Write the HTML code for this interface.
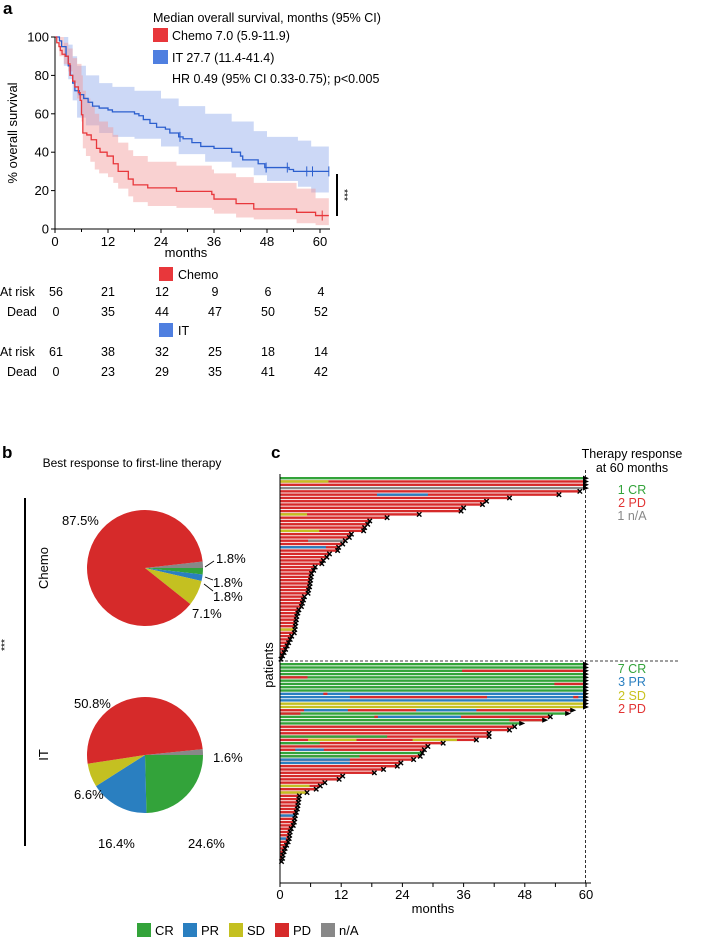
<!DOCTYPE html>
<html><head><meta charset="utf-8">
<style>
html,body{margin:0;padding:0;background:#fff;}
svg{display:block;font-family:"Liberation Sans",Arial,sans-serif;}
</style></head>
<body>
<svg id="fig" width="709" height="941" viewBox="0 0 709 941" xmlns="http://www.w3.org/2000/svg">
<text x="3" y="14" font-size="17" font-weight="bold">a</text>
<text x="2" y="458" font-size="17" font-weight="bold">b</text>
<text x="271" y="458" font-size="17" font-weight="bold">c</text>

<g id="km"></g>
<g font-size="12.5">
  <text x="153" y="22">Median overall survival, months (95% CI)</text>
  <rect x="153" y="28" width="15" height="14" fill="#e8373b"/>
  <text x="172" y="40">Chemo 7.0 (5.9-11.9)</text>
  <rect x="153" y="50" width="15" height="14" fill="#4f7fe0"/>
  <text x="172" y="62">IT 27.7 (11.4-41.4)</text>
  <text x="172" y="83">HR 0.49 (95% CI 0.33-0.75); p&lt;0.005</text>
</g>
<line x1="337" y1="174" x2="337" y2="216" stroke="#000" stroke-width="2"/>
<text x="0" y="0" font-size="10" transform="translate(341,195) rotate(90)" text-anchor="middle">***</text>

<g font-size="12.5" text-anchor="middle">
  <rect x="159" y="267" width="14" height="14" fill="#e8373b"/>
  <text x="178" y="279" text-anchor="start">Chemo</text>
  <rect x="159" y="323" width="14" height="14" fill="#4f7fe0"/>
  <text x="178" y="335" text-anchor="start">IT</text>
  <g id="riskrows"></g>
</g>

<g id="pies"></g>
<text x="132" y="467" font-size="12" text-anchor="middle">Best response to first-line therapy</text>
<line x1="25" y1="498" x2="25" y2="846" stroke="#000" stroke-width="2"/>
<text font-size="10" transform="translate(8,645) rotate(-90)" text-anchor="middle">***</text>
<text font-size="13" transform="translate(48,568) rotate(-90)" text-anchor="middle">Chemo</text>
<text font-size="13" transform="translate(48,755) rotate(-90)" text-anchor="middle">IT</text>

<g id="swim"></g>
<g font-size="12.5" text-anchor="middle">
  <text x="632" y="458">Therapy response</text>
  <text x="632" y="472">at 60 months</text>
  <text x="632" y="494" fill="#33a33a">1 CR</text>
  <text x="632" y="507" fill="#e23434">2 PD</text>
  <text x="632" y="520" fill="#888">1 n/A</text>
  <text x="632" y="673" fill="#33a33a">7 CR</text>
  <text x="632" y="686" fill="#2a7fc0">3 PR</text>
  <text x="632" y="700" fill="#c9c21f">2 SD</text>
  <text x="632" y="713" fill="#e23434">2 PD</text>
</g>
<g id="legend" font-size="13"></g>
</svg>

<script>
// ---------- KM data ----------
const chemoT = [0,0.4,0.9,1.2,1.6,2.3,3.0,3.4,4.0,4.5,5.3,5.7,6.0,6.3,7.2,8.2,9.4,10.2,11.8,13.2,14.3,16.6,17.7,21,27.5,35.5,36,41,45,54.7,59];
const chemoS = [100,97,95,93,91,90,86,80,77,74,71,67,59.5,50,49,46.5,42,40,38,34,30,26,23,21.4,19.6,18,15.6,13.2,10.4,8.7,7];
const chemoUpT = [0,1,2,3,4,5,6,6.3,7,8,9,10,12,13.2,14.3,16.6,17.7,21,27.5,35.5,36,41,45,54.7,59];
const chemoUp  = [100,100,97,94,89,86,80,72,68,64,60,56,53,49,45,41,38,35,33,31,29,27,24,21,16];
const chemoLo  = [100,90,86,82,76,68,56,42,38,35,31,29,27,24,21,17,14,12,11,10,8,6,5,3,2];
const itT = [0,1,1.5,2.5,3,3.5,4,4.5,5.5,6.5,7.5,8.5,10,12,13,18,19,20,21.5,23,25,26,28,29,31,33,36,40,42,42.5,46,47.5,53,54];
const itS = [100,98,95,90,85,80,76,72,70,68,66,64,63,62,61,60,59,57,55,53,52,50,48,47,45,43,42,40,38,36,34,32,31,30];
const itBandT = [0,2,3,4,5,7,10,13,18,24,28,34,40,45,48,55,58];
const itUp = [100,100,96,90,85,80,76,74,72,68,64,60,56,51,48,46,43];
const itLo = [100,85,78,67,58,54,50,48,47,43,39,35,32,28,25,22,19];
const itCensor = [28.3,47.8,52.6,57,58.3,62];
const chemoCensor = [60.5];
const kmXTicks = [0,12,24,36,48,60];
const kmYTicks = [0,20,40,60,80,100];

const NS="http://www.w3.org/2000/svg";
function mk(tag, attrs, parent){const e=document.createElementNS(NS,tag);for(const k in attrs)e.setAttribute(k,attrs[k]);parent.appendChild(e);return e;}

const km=document.getElementById('km');
const kx=t=>55+t*(265/60), ky=s=>229-s*1.92;
function survAt(T,S,t){let v=S[0];for(let i=0;i<T.length;i++){if(T[i]<=t)v=S[i];}return v;}
function stepPts(T,S,tEnd){let p=[];for(let i=0;i<T.length;i++){if(i>0)p.push([kx(T[i]),ky(S[i-1])]);p.push([kx(T[i]),ky(S[i])]);}p.push([kx(tEnd),ky(S[S.length-1])]);return p;}
function band(T,U,L,tEnd,fill,name){
  const up=stepPts(T,U,tEnd), lo=stepPts(T,L,tEnd).reverse();
  const e=mk('polygon',{points:up.concat(lo).map(p=>p.join(',')).join(' '),fill:fill,'fill-opacity':'0.45'},km);
  
  
}
band(itBandT,itUp,itLo,62,'#8fa9ec','it-ci-band');
band(chemoUpT,chemoUp,chemoLo,62,'#f19a9a','chemo-ci-band');
function curve(T,S,tEnd,col,name){
  const e=mk('polyline',{points:stepPts(T,S,tEnd).map(p=>p.join(',')).join(' '),fill:'none',stroke:col,'stroke-width':'1.3'},km);
  
  
}
curve(itT,itS,62,'#2c5fce','it-curve');
curve(chemoT,chemoS,62,'#e8373b','chemo-curve');
itCensor.forEach(c=>{const yy=ky(survAt(itT,itS,c));const e=mk('line',{x1:kx(c),x2:kx(c),y1:yy-5,y2:yy+5,stroke:'#2c5fce','stroke-width':'1'},km);
  
  });
chemoCensor.forEach(c=>{const yy=ky(survAt(chemoT,chemoS,c));const e=mk('line',{x1:kx(c),x2:kx(c),y1:yy-5,y2:yy+5,stroke:'#e8373b','stroke-width':'1'},km);
  
  });
let ax=mk('path',{d:'M55,37 V229 H330',fill:'none',stroke:'#000','stroke-width':'1'},km);


for(let m=0;m<=60;m+=6){mk('line',{x1:kx(m),x2:kx(m),y1:229,y2:m%12?232:233,stroke:'#000'},km);}
kmXTicks.forEach(v=>{const t=mk('text',{x:kx(v),y:246,'font-size':'13','text-anchor':'middle'},km);t.textContent=v;
  
  });
kmYTicks.forEach(v=>{mk('line',{x1:51,x2:55,y1:ky(v),y2:ky(v),stroke:'#000'},km);
  const t=mk('text',{x:49,y:ky(v)+4.5,'font-size':'13','text-anchor':'end'},km);t.textContent=v;
  
  });
let xl=mk('text',{x:186,y:257,'font-size':'13','text-anchor':'middle'},km);xl.textContent='months';


let yl=mk('text',{transform:'translate(17,133) rotate(-90)','font-size':'13','text-anchor':'middle'},km);yl.textContent='% overall survival';



// ---------- risk table ----------
const riskCols=[56,108,162,215,268,321];
const chemoRisk=[56,21,12,9,6,4], chemoDead=[0,35,44,47,50,52];
const itRisk=[61,38,32,25,18,14], itDead=[0,23,29,35,41,42];
const rr=document.getElementById('riskrows');
[[chemoRisk,'At risk',296],[chemoDead,'Dead',316],[itRisk,'At risk',356],[itDead,'Dead',376]].forEach(([arr,lab,y])=>{
  const l=mk('text',{x:lab==='Dead'?7:0,y:y,'text-anchor':'start'},rr);l.textContent=lab;
  
  
  arr.forEach((v,i)=>{const t=mk('text',{x:riskCols[i],y:y},rr);t.textContent=v;
    
    });
});

// ---------- pies ----------
const COL={CR:'#33a33a',PR:'#2a7fc0',SD:'#c4c021',PD:'#d62a2a',NA:'#888888'};
const pieCats=['NA','CR','PR','SD','PD'];
const chemoPie=[1.8,1.8,1.8,7.1,87.5];
const itPie=[1.6,24.6,16.4,6.6,50.8];
const pies=document.getElementById('pies');
function pie(vals,cx,cy,r,name){
  let a=-vals[0]*3.6*Math.PI/180;
  vals.forEach((v,i)=>{
    const b=a+v*3.6*Math.PI/180;
    const large=(b-a)>Math.PI?1:0;
    const d='M'+cx+','+cy+' L'+(cx+r*Math.cos(a))+','+(cy+r*Math.sin(a))+' A'+r+','+r+' 0 '+large+' 1 '+(cx+r*Math.cos(b))+','+(cy+r*Math.sin(b))+' Z';
    const e=mk('path',{d:d,fill:COL[pieCats[i]]},pies);
    
    
    a=b;
  });
}
pie(chemoPie,145,568,58,'chemo-pie');
pie(itPie,145,755,58,'it-pie');
const pieLabels=[['87.5%',62,525],['1.8%',216,563],['1.8%',213,587],['1.8%',213,601],['7.1%',192,618],
  ['50.8%',74,708],['1.6%',213,762],['6.6%',74,799],['16.4%',98,848],['24.6%',188,848]];
pieLabels.forEach(([s,x,y])=>{const t=mk('text',{x:x,y:y,'font-size':'13'},pies);t.textContent=s;
  
  });
[[205,567,214,561],[205,577,213,580],[204,584,213,591]].forEach(l=>mk('line',{x1:l[0],y1:l[1],x2:l[2],y2:l[3],stroke:'#000','stroke-width':'0.8'},pies));

// ---------- swimmer ----------
const chemoDur=[60,60,60,60,58.8,54.7,45,40.5,39.7,36,35.5,27.3,21,17.6,17.2,16.6,16.4,14,13.6,12.8,12.3,11.5,11.3,9.7,9.2,8.5,8.2,6.9,6.6,6.2,6.1,6.0,5.9,5.8,5.6,5.5,4.8,4.6,4.4,4.2,3.7,3.5,3.3,3.2,3.1,3.0,2.9,2.8,2.3,2.0,1.7,1.4,1.1,0.8,0.5,0.2];
const chemoBase={0:'CR',3:'NA'};
const chemoSeg=[[1,0,9.5,'SD'],[5,19,29,'PR'],[11,0,5.3,'SD'],[16,0,7.7,'SD'],[19,5.5,12.4,'NA'],[21,0,9,'PR'],[46,0,3,'SD']];
const chemoAlive=[0,1,2,3];
const itDur=[60,60,60,60,60,60,60,60,60,60,60,60,60,60,57.5,56.5,53,52,47.5,46,45,41,41,38.5,32,29,28.3,27.9,27.5,26.2,23.7,23,20.3,18.5,12.3,11.6,8.8,7.9,7.1,5.3,3.8,3.7,3.6,3.5,3.4,3.2,3.0,2.9,2.8,2.6,2.2,2.0,1.9,1.8,1.6,1.3,1.0,0.8,0.6,0.5,0.3];
const itBase={0:'CR',1:'CR',2:'CR',3:'CR',4:'CR',5:'CR',6:'CR',7:'CR',8:'CR',9:'PR',10:'PR',11:'PR',12:'SD',13:'SD',15:'CR',16:'CR',17:'CR',18:'CR',27:'CR'};
const itSeg=[[2,35.7,60,'PD'],[4,0,5.4,'PD'],[6,53.8,60,'PD'],[9,8.5,9.3,'PD'],[10,13.7,40.6,'PD'],[10,57.5,58.5,'PD'],
  [14,4.7,13.3,'PR'],[14,26.7,38.5,'PR'],[15,0,4,'PD'],[16,18.5,19.2,'PD'],[16,19.2,35.5,'PR'],[16,35.5,53,'PD'],[17,45,52,'PD'],
  [22,0,21,'CR'],[23,5.5,15,'SD'],[23,26,34.7,'SD'],[24,0,7.8,'CR'],[26,3,8.6,'PR'],[28,0,15.6,'CR'],[29,0,13.7,'PR'],[30,0,13.7,'PR'],
  [37,0,5.8,'SD'],[39,0,5.3,'SD'],[46,0,2.8,'PR'],[53,0,1.2,'PR']];
const itAlive=[0,1,2,3,4,5,6,7,8,9,10,11,12,13,14,15,17,18];
const swimTicks=[0,12,24,36,48,60];

const sw=document.getElementById('swim');
const sx=m=>280+m*(306/60);
const pitch=3.29, bh=2.4;
function group(dur,base,segs,alive,y0,name){
  dur.forEach((d,i)=>{
    const y=y0+i*pitch;
    const r=mk('rect',{x:sx(0),y:y,width:sx(d)-sx(0),height:bh,fill:COL[base[i]||'PD']},sw);
    
    
    segs.filter(s=>s[0]===i).forEach(s=>{
      const e=mk('rect',{x:sx(s[1]),y:y,width:sx(Math.min(s[2],d))-sx(s[1]),height:bh,fill:COL[s[3]]},sw);
      
      
    });
    const ex=sx(d), cy=y+bh/2;
    if(alive.includes(i)){
      const t=mk('polygon',{points:(ex-3)+','+(cy-2.6)+' '+(ex+3)+','+cy+' '+(ex-3)+','+(cy+2.6),fill:'#000'},sw);
      
      
    } else {
      const p=mk('path',{d:'M'+(ex-2.2)+','+(cy-2.2)+' L'+(ex+2.2)+','+(cy+2.2)+' M'+(ex-2.2)+','+(cy+2.2)+' L'+(ex+2.2)+','+(cy-2.2),stroke:'#000','stroke-width':'1.4'},sw);
      
      
    }
  });
}
group(chemoDur,chemoBase,chemoSeg,chemoAlive,477,'chemo');
group(itDur,itBase,itSeg,itAlive,663,'it');
mk('line',{x1:sx(60)-0.5,x2:sx(60)-0.5,y1:470,y2:883,stroke:'#000','stroke-width':'0.8','stroke-dasharray':'3,2'},sw);
mk('line',{x1:280,x2:680,y1:661,y2:661,stroke:'#000','stroke-width':'0.8','stroke-dasharray':'3,2'},sw);
let sa=mk('path',{d:'M280,474 V883 H591',fill:'none',stroke:'#000','stroke-width':'1'},sw);


for(let m=0;m<=60;m+=6)mk('line',{x1:sx(m),x2:sx(m),y1:883,y2:887,stroke:'#000'},sw);
swimTicks.forEach(v=>{const t=mk('text',{x:sx(v),y:899,'font-size':'13','text-anchor':'middle'},sw);t.textContent=v;
  
  });
let sxl=mk('text',{x:433,y:913,'font-size':'13','text-anchor':'middle'},sw);sxl.textContent='months';


let syl=mk('text',{transform:'translate(273,665) rotate(-90)','font-size':'13','text-anchor':'middle'},sw);syl.textContent='patients';



// ---------- legend ----------
const legCats=['CR','PR','SD','PD','NA'];
const legLabels=['CR','PR','SD','PD','n/A'];
const lg=document.getElementById('legend');
legCats.forEach((c,i)=>{
  const x=137+i*46;
  const r=mk('rect',{x:x,y:923,width:14,height:14,fill:COL[c]},lg);
  
  
  const t=mk('text',{x:x+18,y:935},lg);t.textContent=legLabels[i];
  
  
});
</script>
</body></html>
